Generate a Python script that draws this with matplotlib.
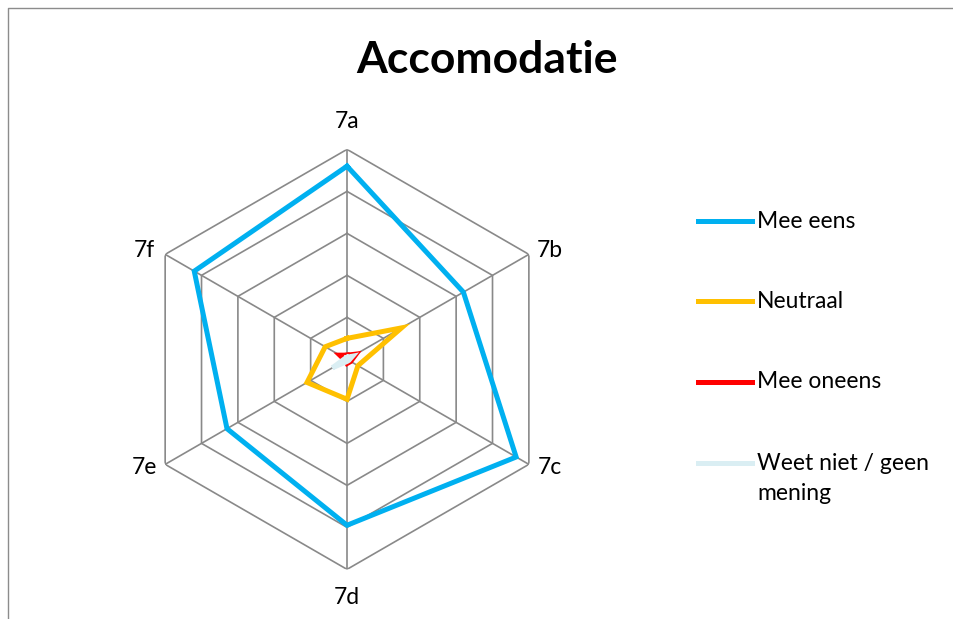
import numpy as np
import matplotlib
matplotlib.use('Agg')
import matplotlib.pyplot as plt
from matplotlib.lines import Line2D

plt.rcParams['font.family'] = ['Lato', 'DejaVu Sans']

categories = ['7a', '7b', '7c', '7d', '7e', '7f']
series_names = ['Mee eens', 'Neutraal', 'Mee oneens', 'Weet niet / geen\nmening']
series_colors = ['#00B0F0', '#FFC000', '#FF0000', '#DAEEF3']

mee_eens = [92, 64, 93, 79, 66, 84]
neutraal = [10, 30, 6, 19, 22, 12]
mee_oneens = [2, 5, 2, 2, 1, 4]
weet_niet = [1, 3, 1, 1, 8, 1]

rings = [20, 40, 60, 80, 100]

grid_color = '#898989'

fig = plt.figure(figsize=(9.54, 6.19), dpi=100)

# grey chart-area border: only left and top edge are inside the picture
bx, by = 8 / 954, 1 - 8 / 619
fig.add_artist(Line2D([bx, bx, 1.0], [0.0, by, by], color='#8C8C8C', lw=1.0,
                      transform=fig.transFigure))

fig.text(487 / 954, 1 - 60 / 619, 'Accomodatie', ha='center', va='center',
         fontsize=32, fontweight='bold')

ax = fig.add_axes([0.1436, 0.0802, 0.4403, 0.6785], projection='polar')
ax.set_theta_offset(np.pi / 2)
ax.set_theta_direction(-1)
ax.set_ylim(0, 100)
ax.grid(False)
ax.spines['polar'].set_visible(False)
ax.set_xticks([])
ax.set_yticks([])
ax.patch.set_alpha(0)

angles = np.linspace(0, 2 * np.pi, len(categories), endpoint=False)
closed = np.concatenate([angles, angles[:1]])

for r in rings:
    ax.plot(closed, [r] * len(closed), color=grid_color, lw=1.2, zorder=1)
for a in angles:
    ax.plot([a, a], [0, rings[-1]], color=grid_color, lw=1.2, zorder=1)

all_series = [mee_eens, neutraal, mee_oneens, weet_niet]
for vals, col in zip(all_series, series_colors):
    v = list(vals) + [vals[0]]
    ax.plot(closed, v, color=col, lw=3.6, solid_joinstyle='miter', zorder=3)

offsets = [(0, 28), (21, 4), (21, -3), (0, -28), (-21, -3), (-21, 4)]
for a, lab, off in zip(angles, categories, offsets):
    ax.annotate(lab, xy=(a, rings[-1]), xytext=off, textcoords='offset pixels',
                ha='center', va='center', fontsize=16.5, annotation_clip=False)

# legend drawn by hand so the two-line label keeps its line on the first row
rows_y = [221, 301, 382, 463]
for name, col, y in zip(series_names, series_colors, rows_y):
    fy = 1 - y / 619
    fig.add_artist(Line2D([698 / 954, 752 / 954], [fy, fy], color=col, lw=3.6,
                          transform=fig.transFigure))
    if '\n' in name:
        fig.text(757 / 954, 1 - (y - 10) / 619, name, ha='left', va='top',
                 fontsize=16.5, linespacing=1.55)
    else:
        fig.text(757 / 954, fy, name, ha='left', va='center', fontsize=16.5)

fig.savefig('out.png', dpi=100)
